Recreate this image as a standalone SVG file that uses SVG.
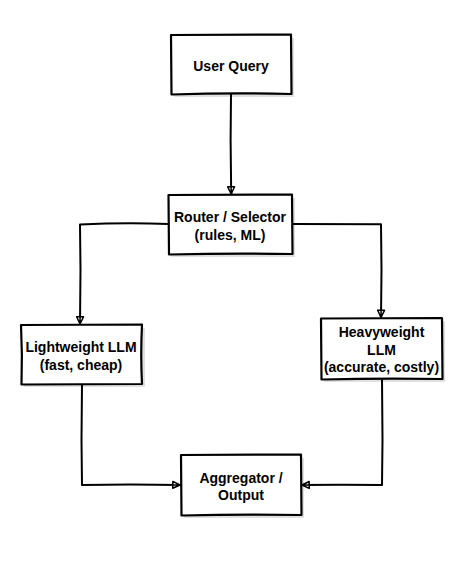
<svg xmlns="http://www.w3.org/2000/svg" width="456" height="566" viewBox="0 0 456 566">
<defs>
<style>
.box{fill:#ffffff;stroke:#000000;stroke-width:2.2;stroke-linejoin:round}
.shadow{fill:#000000;opacity:0.12}
.lbl{font-family:"Liberation Sans",Arial,Helvetica,sans-serif;font-weight:bold;font-size:14px;fill:#000000;text-anchor:middle}
.edge{fill:none;stroke:#000000;stroke-width:2;stroke-linecap:round;stroke-linejoin:round}
</style>
<marker id="arr" viewBox="0 0 10 10" refX="9" refY="5" markerWidth="9" markerHeight="9" orient="auto" markerUnits="userSpaceOnUse">
<path d="M1,1.2 L9,5 L1,8.8 Z M1,5 L9,5" fill="#ffffff" stroke="#000000" stroke-width="1.7" stroke-linejoin="round"/>
</marker>
</defs>
<rect width="456" height="566" fill="#ffffff"/>
<g id="connectors">
<path class="edge" d="M231,94 L230.6,140 L231.2,194" marker-end="url(#arr)"/>
<path class="edge" d="M168,224 Q125,222.5 80,224.5 L80.5,270 L80,324" marker-end="url(#arr)"/>
<path class="edge" d="M292,224 L381,224.3 L381.5,270 L381,317.5" marker-end="url(#arr)"/>
<path class="edge" d="M82,384 L81.5,440 L82,485 Q130,484 180,485" marker-end="url(#arr)"/>
<path class="edge" d="M382,379 L382.5,440 L382,485 Q340,484.5 302,485" marker-end="url(#arr)"/>
</g>
<g id="user-query">
<rect class="shadow" x="174" y="38" width="120" height="59"/>
<path class="box" d="M171,35 L291,34.5 L291.5,94 Q231,92.5 171.5,94.5 Z"/>
<text class="lbl" x="231" y="71">User Query</text>
</g>
<g id="router">
<rect class="shadow" x="171" y="198" width="124" height="59"/>
<path class="box" d="M168.5,195 L292,194.5 L292.5,254 Q230,253 169,254.5 Z"/>
<text class="lbl" x="230" y="222">Router / Selector</text>
<text class="lbl" x="230" y="240">(rules, ML)</text>
</g>
<g id="lightweight">
<rect class="shadow" x="24" y="328" width="121" height="59"/>
<path class="box" d="M21,325 L142,324.5 Q140.5,355 142,384 L21.5,384.5 Q22.5,355 21,325 Z"/>
<text class="lbl" x="81" y="352">Lightweight LLM</text>
<text class="lbl" x="81" y="370">(fast, cheap)</text>
</g>
<g id="heavyweight">
<rect class="shadow" x="324" y="321" width="121" height="61"/>
<path class="box" d="M321,318.5 L442,318 L442.5,379 Q381,378 321.5,379.5 Z"/>
<text class="lbl" x="381.5" y="337">Heavyweight</text>
<text class="lbl" x="381.5" y="354.5">LLM</text>
<text class="lbl" x="381.5" y="372">(accurate, costly)</text>
</g>
<g id="aggregator">
<rect class="shadow" x="184" y="458" width="120" height="60"/>
<path class="box" d="M181,455 L301,454.5 L301.5,515 Q241,514 181.5,515.5 Z"/>
<text class="lbl" x="241" y="483">Aggregator /</text>
<text class="lbl" x="241" y="500">Output</text>
</g>
</svg>
